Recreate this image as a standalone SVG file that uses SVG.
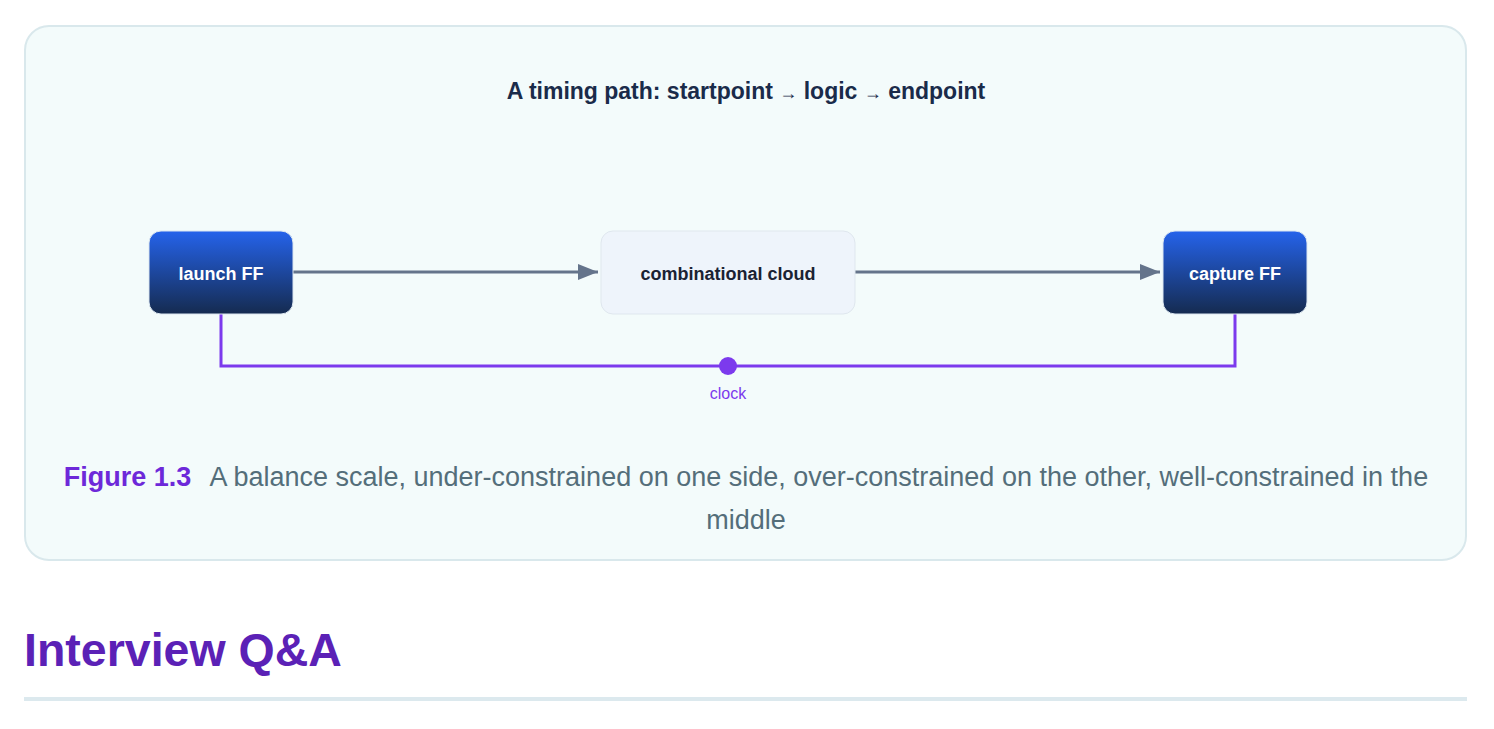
<svg xmlns="http://www.w3.org/2000/svg" width="1494" height="729" viewBox="0 0 1494 729">
  <style>
    text { font-family: "Liberation Sans", Arial, sans-serif; }
    .ff-label { fill: #ffffff; font-size: 18px; font-weight: bold; text-anchor: middle; }
    .cloud-label { fill: #1a2233; font-size: 18px; font-weight: bold; text-anchor: middle; }
    .flow { stroke: #64748b; stroke-width: 3; fill: none; }
    .clk { stroke: #7c3aed; stroke-width: 3; fill: none; }
  </style>
  <defs>
    <linearGradient id="ffGrad" x1="0" y1="0" x2="0" y2="1">
      <stop offset="0" stop-color="#2563eb"/>
      <stop offset="1" stop-color="#152b50"/>
    </linearGradient>
    <marker id="arrowHead" viewBox="0 0 20 16" refX="20" refY="8" markerWidth="20" markerHeight="16" markerUnits="userSpaceOnUse" orient="auto">
      <path d="M0,0 L20,8 L0,16 Z" fill="#64748b"/>
    </marker>
  </defs>
  <rect x="0" y="0" width="1494" height="729" fill="#ffffff"/>
  <rect x="25" y="26" width="1441" height="534" rx="24" fill="#f3fbfb" stroke="#d9e8ec" stroke-width="2"/>
  <text x="746" y="99" font-size="23" font-weight="bold" fill="#1a2b4a" text-anchor="middle">A timing path: startpoint <tspan font-size="18">→</tspan> logic <tspan font-size="18">→</tspan> endpoint</text>

  <g id="connectors">
    <line class="flow" x1="293" y1="272" x2="598" y2="272" marker-end="url(#arrowHead)"/>
    <line class="flow" x1="855" y1="272" x2="1160" y2="272" marker-end="url(#arrowHead)"/>
    <polyline class="clk" points="221,314 221,366 1235,366 1235,314"/>
    <circle cx="728" cy="366" r="9" fill="#7c3aed"/>
    <text x="728" y="399" font-size="16" fill="#7c3aed" text-anchor="middle">clock</text>
  </g>

  <g id="launch-ff">
    <rect x="149" y="231" width="144" height="83" rx="12" fill="url(#ffGrad)" stroke="#dbe6f0" stroke-width="1"/>
    <text class="ff-label" x="221" y="280">launch FF</text>
  </g>
  <g id="combinational-cloud">
    <rect x="601" y="231" width="254" height="83" rx="12" fill="#eef4fb" stroke="#dfe7ee" stroke-width="1"/>
    <text class="cloud-label" x="728" y="280">combinational cloud</text>
  </g>
  <g id="capture-ff">
    <rect x="1163" y="231" width="144" height="83" rx="12" fill="url(#ffGrad)" stroke="#dbe6f0" stroke-width="1"/>
    <text class="ff-label" x="1235" y="280">capture FF</text>
  </g>

  <text x="746" y="486" font-size="27" fill="#546e7a" text-anchor="middle"><tspan font-weight="bold" fill="#6d28d9">Figure 1.3</tspan><tspan dx="18">A balance scale, under-constrained on one side, over-constrained on the other, well-constrained in the</tspan></text>
  <text x="746" y="529" font-size="27" fill="#546e7a" text-anchor="middle">middle</text>

  <text x="24" y="666" font-size="46.5" font-weight="bold" fill="#5b21b6">Interview Q&amp;A</text>
  <rect x="24" y="697" width="1443" height="4" fill="#dce9ee"/>
</svg>
